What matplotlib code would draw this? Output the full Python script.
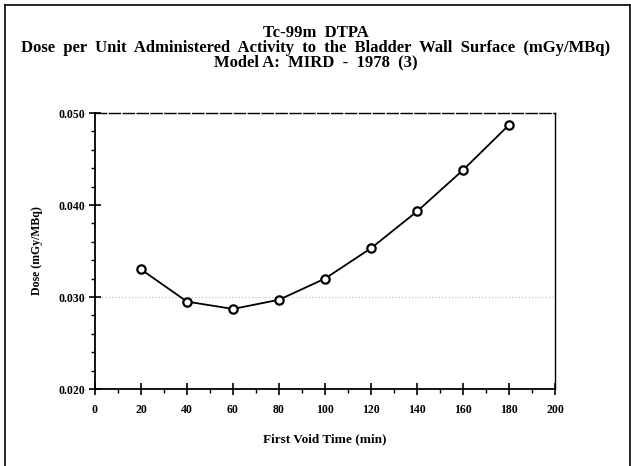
import numpy as np
import matplotlib
matplotlib.use('Agg')
import matplotlib.pyplot as plt
from matplotlib.ticker import MultipleLocator, FormatStrFormatter
from matplotlib.lines import Line2D

# first void time (min) vs bladder wall dose (mGy/MBq)
void_time = [20, 40, 60, 80, 100, 120, 140, 160, 180]
dose = [0.0330, 0.0295, 0.0287, 0.0297, 0.0320, 0.0353, 0.0393, 0.0438, 0.0487]

title_lines = ['Tc-99m  DTPA',
               'Dose  per  Unit  Administered  Activity  to  the  Bladder  Wall  Surface  (mGy/MBq)',
               'Model A:  MIRD  -  1978  (3)']

W, H = 631, 466
fig = plt.figure(figsize=(W / 100, H / 100), dpi=100)
serif = ['Liberation Serif', 'DejaVu Serif']

# page frame (top, left, right)
for xs, ys in [([5, 630], [5, 5]), ([5, 5], [5, 466]), ([630, 630], [5, 466])]:
    fig.add_artist(Line2D([x / W for x in xs], [1 - y / H for y in ys],
                          color='black', lw=1.2, transform=fig.transFigure))

fig.text(0.5, 1 - 48 / H, '\n'.join(title_lines), ha='center', va='center',
         ma='center', fontsize=12, fontweight='bold', family=serif,
         linespacing=0.9)

ax = fig.add_axes([95 / W, 1 - 389 / H, (555 - 95) / W, (389 - 113) / H])
ax.plot(void_time, dose, color='black', lw=1.3, marker='o', ms=6,
        mfc='white', mec='black', mew=1.6)
ax.axhline(0.030, color='#bbbbbb', lw=0.8, ls=(0, (1, 2)), zorder=0)

ax.set_xlim(0, 200)
ax.set_ylim(0.020, 0.050)
ax.xaxis.set_major_locator(MultipleLocator(20))
ax.xaxis.set_minor_locator(MultipleLocator(10))
ax.yaxis.set_major_locator(MultipleLocator(0.010))
ax.yaxis.set_minor_locator(MultipleLocator(0.002))
ax.yaxis.set_major_formatter(FormatStrFormatter('%.3f'))
ax.tick_params(which='major', direction='inout', length=8, width=1.2)
ax.tick_params(which='minor', direction='out', length=3, width=1.0)
ax.tick_params(axis='x', pad=7)
ax.tick_params(axis='y', pad=3)

for lab in ax.get_xticklabels():
    lab.set_fontsize(8.5)
    lab.set_fontweight('bold')
    lab.set_family(serif)
for lab in ax.get_yticklabels():
    lab.set_fontsize(8.5)
    lab.set_fontweight('bold')
    lab.set_family(serif)

for side in ['left', 'bottom']:
    ax.spines[side].set_linewidth(1.3)
for side in ['top', 'right']:
    ax.spines[side].set_linewidth(1.0)
ax.spines['top'].set_linestyle((0, (8, 2)))

ax.set_xlabel('First Void Time (min)', fontsize=9.5, fontweight='bold',
              family=serif, labelpad=12)
ax.set_ylabel('Dose (mGy/MBq)', fontsize=8.5, fontweight='bold',
              family=serif, labelpad=11)

fig.savefig('out.png', dpi=100)
